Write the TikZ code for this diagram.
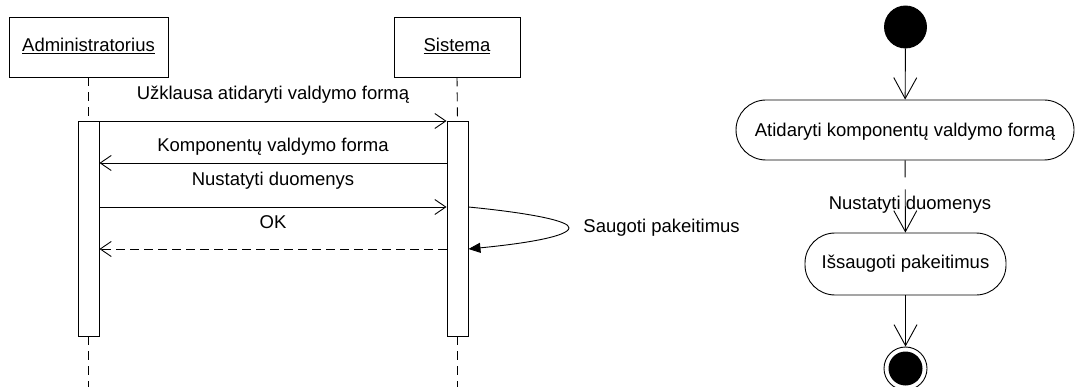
\documentclass[tikz,border=0pt]{standalone}
\usepackage{fontspec}
\setmainfont{Liberation Sans}
\usetikzlibrary{arrows.meta}
\begin{document}
\begin{tikzpicture}[x=1pt,y=-1pt,
  font=\fontsize{18.5}{22}\selectfont,
  line width=0.9pt,
  actor/.style={draw,rectangle,inner sep=0pt,minimum height=60pt},
  actbar/.style={draw,fill=white,rectangle,inner sep=0pt,minimum width=21pt,minimum height=215pt},
  lifeline/.style={dash pattern=on 9pt off 6pt},
  msg/.style={-{Straight Barb[length=11pt,width=15pt,line width=0.9pt]}},
  reply/.style={msg,dash pattern=on 9pt off 5pt},
  selfmsg/.style={-{Triangle[length=12pt,width=10pt]}},
  lbl/.style={anchor=base,inner sep=0pt},
  action/.style={draw,rectangle,rounded corners=30pt,inner sep=0pt,minimum height=60pt},
  flow/.style={-{Straight Barb[length=21pt,width=23pt,line width=0.9pt]}}
]
\useasboundingbox (0,0) rectangle (1075,387);

% ---- sequence: participants ----
\node[actor,minimum width=159pt] (adm) at (88.5,47) {};
\node[lbl] (admtext) at (88.5,52) {\underline{Administratorius}};
\node[actor,minimum width=126pt] (sys) at (457,47) {};
\node[lbl] (systext) at (457,52) {\underline{Sistema}};

% activation bars
\node[actbar] (actA) at (88.5,228.5) {};
\node[actbar] (actS) at (457.5,228.5) {};

% lifelines
\coordinate (bottom) at (0,387);
\draw[lifeline] (adm.south) -- (actA.north);
\draw[lifeline] (actA.south) -- (actA.south |- bottom);
\draw[lifeline] (sys.south) -- (actS.north);
\draw[lifeline] (actS.south) -- (actS.south |- bottom);

% message levels
\coordinate (y1) at (0,121);
\coordinate (y2) at (0,163);
\coordinate (y3) at (0,207);
\coordinate (y4) at (0,249);

\draw[msg] (actA.east |- y1) -- (actS.west |- y1);
\node[lbl] (m1) at (273,100) {Užklausa atidaryti valdymo formą};
\draw[msg] (actS.west |- y2) -- (actA.east |- y2);
\node[lbl] (m2) at (273,152) {Komponentų valdymo forma};
\draw[msg] (actA.east |- y3) -- (actS.west |- y3);
\node[lbl] (m3) at (273,186) {Nustatyti duomenys};
\draw[reply] (actS.west |- y4) -- (actA.east |- y4);
\node[lbl] (m4) at (273,229) {OK};

% self message
\coordinate (loop) at (569,228);
\draw[selfmsg] (actS.east |- y3) .. controls (530,213) and (570,221) .. (loop)
  .. controls (568,236) and (530,243) .. (actS.east |- y4);
\node[lbl,anchor=base west] (m5) at (583,233) {Saugoti pakeitimus};

% ---- activity ----
\node[circle,fill=black,draw,minimum size=42pt,inner sep=0pt] (start) at (905.5,27) {};
\node[action,minimum width=338pt] (a1) at (905,130) {};
\node[lbl] (a1text) at (905,137) {Atidaryti komponentų valdymo formą};
\node[action,minimum width=201pt,minimum height=62pt] (a2) at (905.5,264) {};
\node[lbl] (a2text) at (905.5,269) {Išsaugoti pakeitimus};
\node[circle,draw,minimum size=43pt,inner sep=0pt] (stop) at (905.5,368.5) {};
\node[circle,fill=black,minimum size=34pt,inner sep=0pt] (stopdot) at (stop.center) {};

\draw[flow] (start) -- (a1);
\draw[flow,dash pattern=on 17pt off 12pt on 200pt] (a1) -- (a2);
\node[lbl] (flowlbl) at (910,210) {Nustatyti duomenys};
\draw[flow] (a2) -- (stop);
\end{tikzpicture}
\end{document}
